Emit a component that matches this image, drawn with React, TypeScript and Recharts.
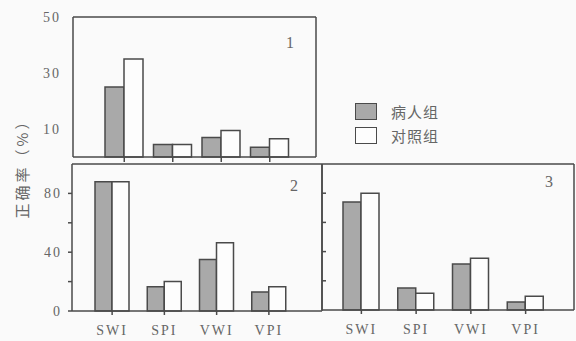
import { BarChart, Bar, XAxis, YAxis, Legend } from 'recharts';

const categories = ['SWI', 'SPI', 'VWI', 'VPI'];
const seriesNames = ['病人组', '对照组'];

// panel 1
const p1Patient = [25, 4.5, 7, 3.5];
const p1Control = [35, 4.5, 9.5, 6.5];
// panel 2
const p2Patient = [88, 16.5, 35, 13];
const p2Control = [88, 20, 46.5, 16.5];
// panel 3
const p3Patient = [74, 15, 31.5, 5.5];
const p3Control = [80, 11.5, 35.5, 9.5];

const p1Ticks = [10, 30, 50];
const p23Ticks = [0, 20, 40, 60, 80];
const p23MinorTicks = [20, 40, 60, 80];
const panelNames = ['1', '2', '3'];
const yTitle = '正确率（%）';

const LINE = '#4a4a4a';
const TEXT = '#666';
const SERIF = '"Liberation Serif", "DejaVu Serif", serif';
const CJK = '"Noto Sans CJK SC", sans-serif';

const makeData = (patient: number[], control: number[]) =>
  categories.map((name, i) => ({ name, patient: patient[i], control: control[i] }));

const data1 = makeData(p1Patient, p1Control);
const data2 = makeData(p2Patient, p2Control);
const data3 = makeData(p3Patient, p3Control);

const tickStyle = { fontSize: 14, fill: TEXT, fontFamily: SERIF, letterSpacing: 2 };
const emptyTick = () => <g />;

const overlay: React.CSSProperties = { position: 'absolute', left: 0, top: 0 };

function bars() {
  return [
    <Bar key="p" dataKey="patient" name={seriesNames[0]} fill="#a9a9a9" stroke={LINE} strokeWidth={1.5} isAnimationActive={false} />,
    <Bar key="c" dataKey="control" name={seriesNames[1]} fill="#fdfdfd" stroke={LINE} strokeWidth={1.5} isAnimationActive={false} />,
  ];
}

// top and right edges of each panel box, drawn as bare axes
function boxAxes(yMax: number) {
  return [
    <XAxis key="t" xAxisId="top" orientation="top" type="number" domain={[0, 1]} ticks={[0, 1]} height={1}
      tick={false} tickLine={false} stroke={LINE} strokeWidth={1.5} />,
    <YAxis key="r" yAxisId="right" orientation="right" domain={[0, yMax]} width={1}
      tick={false} tickLine={false} stroke={LINE} strokeWidth={1.5} />,
  ];
}

function LegendBox({ payload }: any) {
  const items = [...(payload ?? [])].sort(
    (a: any, b: any) => seriesNames.indexOf(a.value) - seriesNames.indexOf(b.value),
  );
  return (
    <div style={{ fontFamily: CJK, fontSize: 15, color: TEXT }}>
      {items.map((entry: any, i: number) => (
        <div key={i} style={{ display: 'flex', alignItems: 'center', height: 24 }}>
          <span
            style={{
              display: 'inline-block',
              width: 20,
              height: 15,
              background: entry?.payload?.fill ?? entry.color,
              border: `1.5px solid ${LINE}`,
              marginRight: 14,
            }}
          />
          <span style={{ letterSpacing: 1 }}>{entry.value}</span>
        </div>
      ))}
    </div>
  );
}

export default function App() {
  const labelStyle: React.CSSProperties = {
    position: 'absolute',
    fontFamily: SERIF,
    fontSize: 16,
    color: TEXT,
  };
  return (
    <div style={{ position: 'absolute', left: 0, top: 0, width: 576, height: 341, background: '#fafafa', overflow: 'hidden' }}>
      {/* panel 1 */}
      <div style={overlay}>
        <BarChart width={576} height={341} data={data1} barGap={0} barSize={19}
          margin={{ top: 16, right: 259, bottom: 178, left: 0 }}>
          <XAxis dataKey="name" height={6} tick={emptyTick} tickSize={5} padding={{ left: 27, right: 22 }}
            stroke={LINE} strokeWidth={1.5} />
          <YAxis width={73} domain={[0, 50]} ticks={p1Ticks} tickLine={false} tickSize={4} tickMargin={8}
            tick={tickStyle} stroke={LINE} strokeWidth={1.5} />
          {boxAxes(50)}
          <Legend layout="vertical" align="center" verticalAlign="middle" content={<LegendBox />}
            wrapperStyle={{ left: 355, top: 99, width: 120 }} />
          {bars()}
        </BarChart>
      </div>

      {/* panel 2 */}
      <div style={overlay}>
        <BarChart width={576} height={341} data={data2} barGap={0} barSize={17}
          margin={{ top: 163, right: 253, bottom: 0, left: 0 }}>
          <XAxis dataKey="name" height={30} tick={tickStyle} tickSize={4} tickMargin={10}
            padding={{ left: 14, right: 27 }} stroke={LINE} strokeWidth={1.5} />
          <YAxis width={72} domain={[0, 100]} ticks={p23Ticks} tickSize={4} tickMargin={6}
            tickFormatter={(v: number) => (v % 40 === 0 ? String(v) : '')}
            tick={tickStyle} stroke={LINE} strokeWidth={1.5} />
          {boxAxes(100)}
          {bars()}
        </BarChart>
      </div>

      {/* panel 3 */}
      <div style={overlay}>
        <BarChart width={576} height={341} data={data3} barGap={0} barSize={18}
          margin={{ top: 163, right: 1, bottom: 0, left: 321 }}>
          <XAxis dataKey="name" height={31} tick={tickStyle} tickSize={4} tickMargin={10}
            padding={{ left: 12, right: 21 }} stroke={LINE} strokeWidth={1.5} />
          <YAxis width={1} domain={[0, 100]} ticks={p23MinorTicks} tick={emptyTick} tickSize={-4}
            stroke={LINE} strokeWidth={1.5} />
          {boxAxes(100)}
          {bars()}
        </BarChart>
      </div>

      <div style={{ ...labelStyle, left: 286, top: 34 }}>{panelNames[0]}</div>
      <div style={{ ...labelStyle, left: 290, top: 177 }}>{panelNames[1]}</div>
      <div style={{ ...labelStyle, left: 545, top: 173 }}>{panelNames[2]}</div>

      <div
        style={{
          position: 'absolute',
          left: 21,
          top: 165,
          transform: 'translate(-50%, -50%) rotate(-90deg)',
          whiteSpace: 'nowrap',
          fontFamily: CJK,
          fontSize: 15,
          letterSpacing: 3,
          color: TEXT,
        }}
      >
        {yTitle}
      </div>
    </div>
  );
}
